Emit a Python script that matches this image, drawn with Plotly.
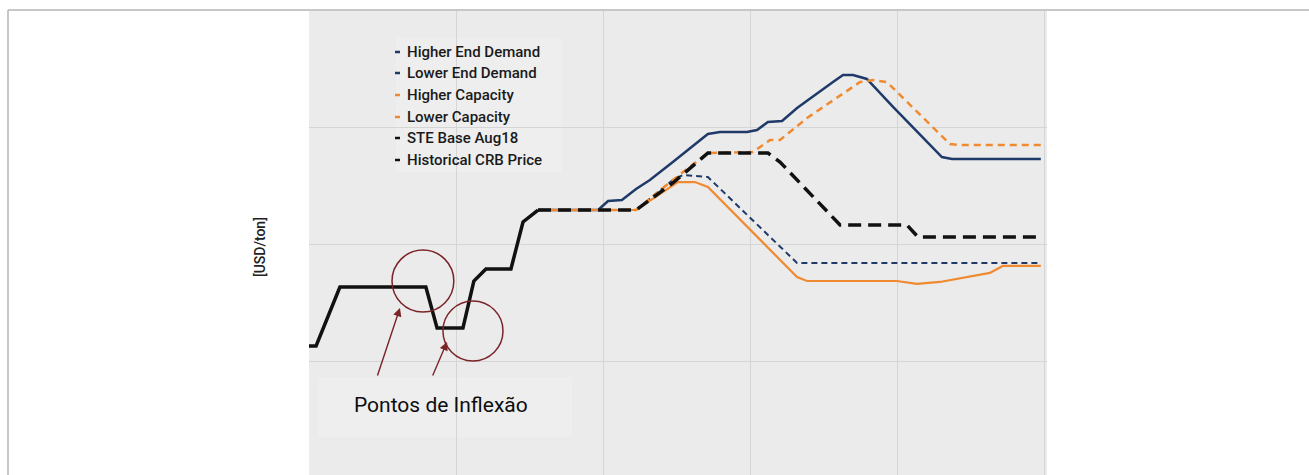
import plotly.graph_objects as go

# ---- data (decimal years, USD/ton) ----
hist_x = [2000.00, 2000.24, 2001.05, 2003.97, 2004.35, 2005.23, 2005.60, 2006.01, 2006.86, 2007.27, 2007.78]
hist_y = [113.7, 113.7, 164.1, 164.1, 129.1, 129.1, 169.2, 179.5, 179.5, 219.7, 229.9]

ste_x = [2007.78, 2011.11, 2012.36, 2013.55, 2015.59, 2016.00, 2018.04, 2020.31, 2020.69, 2024.86]
ste_y = [229.9, 229.9, 253.0, 278.6, 278.6, 270.9, 217.1, 217.1, 206.8, 206.8]

hicap_x = [2007.78, 2011.11, 2012.36, 2013.55, 2015.08, 2015.66, 2016.00, 2016.92, 2018.72, 2019.16,
           2019.63, 2020.18, 2021.77, 2022.11, 2024.86]
hicap_y = [229.9, 229.9, 255.6, 278.6, 279.5, 289.7, 289.7, 308.5, 339.3, 341.0,
           339.3, 325.6, 286.3, 285.5, 285.5]

hidem_x = [2007.78, 2009.82, 2010.16, 2010.63, 2011.11, 2011.58, 2012.36, 2013.55, 2013.96, 2014.88,
           2015.22, 2015.59, 2016.07, 2016.58, 2017.80, 2018.14, 2018.48, 2018.95, 2019.84, 2021.50,
           2021.84, 2024.86]
hidem_y = [229.9, 229.9, 237.6, 238.5, 247.9, 255.6, 271.0, 294.9, 296.6, 296.6,
           298.3, 305.1, 306.0, 317.1, 339.3, 345.3, 345.3, 341.9, 318.0, 275.2,
           273.5, 273.5]

lodem_x = [2007.78, 2011.11, 2012.36, 2012.70, 2013.55, 2016.58, 2024.86]
lodem_y = [229.9, 229.9, 255.6, 259.8, 258.1, 184.6, 184.6]

locap_x = [2007.78, 2011.11, 2012.53, 2013.11, 2013.55, 2016.58, 2016.92, 2019.97, 2020.65, 2021.43,
           2023.13, 2023.57, 2024.86]
locap_y = [229.9, 229.9, 253.8, 253.8, 249.6, 172.6, 169.2, 169.2, 166.7, 168.4,
           176.1, 182.1, 182.1]

legend_labels = ["Higher End Demand", "Lower End Demand", "Higher Capacity",
                 "Lower Capacity", "STE Base Aug18", "Historical CRB Price"]

NAVY = "#1f3a68"
ORANGE = "#f08a30"
BLACK = "#111111"
MAROON = "#7a2428"
FONT = "Roboto"

W, H = 1309, 475
ML, MR, MT, MB = 309, 262, 11, 0
PW, PH = W - ML - MR, H - MT - MB


def px(xp):
    return (xp - ML) / PW


def py(yp):
    return (H - MB - yp) / PH


fig = go.Figure()

fig.add_trace(go.Scatter(x=hidem_x, y=hidem_y, mode="lines", name=legend_labels[0],
                         line=dict(color=NAVY, width=2.5)))
fig.add_trace(go.Scatter(x=lodem_x, y=lodem_y, mode="lines", name=legend_labels[1],
                         line=dict(color=NAVY, width=2, dash="6px,4px")))
fig.add_trace(go.Scatter(x=hicap_x, y=hicap_y, mode="lines", name=legend_labels[2],
                         line=dict(color=ORANGE, width=2.5, dash="7px,5px")))
fig.add_trace(go.Scatter(x=locap_x, y=locap_y, mode="lines", name=legend_labels[3],
                         line=dict(color=ORANGE, width=2.2)))
fig.add_trace(go.Scatter(x=ste_x, y=ste_y, mode="lines", name=legend_labels[4],
                         line=dict(color=BLACK, width=3.5, dash="13px,7px")))
fig.add_trace(go.Scatter(x=hist_x, y=hist_y, mode="lines", name=legend_labels[5],
                         line=dict(color=BLACK, width=3.5)))

shapes = []
annotations = []

# outer frame (top and left edges)
shapes.append(dict(type="line", xref="paper", yref="paper", x0=px(8), x1=px(1309),
                   y0=py(10), y1=py(10), line=dict(color="#b4b4b4", width=1.5)))
shapes.append(dict(type="line", xref="paper", yref="paper", x0=px(8), x1=px(8),
                   y0=py(10), y1=py(475), line=dict(color="#b4b4b4", width=1.5)))

# legend panel
shapes.append(dict(type="rect", xref="paper", yref="paper", x0=px(396), x1=px(562),
                   y0=py(172), y1=py(38), fillcolor="#eeeeee", line=dict(width=0), layer="between"))
legend_colors = [NAVY, NAVY, ORANGE, ORANGE, BLACK, BLACK]
row_y = [52, 73, 95, 117, 138, 160]
for lab, col, ry in zip(legend_labels, legend_colors, row_y):
    shapes.append(dict(type="line", xref="paper", yref="paper", x0=px(395), x1=px(400),
                       y0=py(ry), y1=py(ry), line=dict(color=col, width=2.5)))
    annotations.append(dict(text=lab, xref="paper", yref="paper", x=px(405), y=py(ry),
                            xanchor="left", yanchor="middle", showarrow=False,
                            font=dict(family=FONT, size=15, color="#1a1a1a", weight=500)))

# callout box
shapes.append(dict(type="rect", xref="paper", yref="paper", x0=px(318), x1=px(572),
                   y0=py(437), y1=py(377), fillcolor="#eeeeee", line=dict(width=0), layer="between"))
annotations.append(dict(text="Pontos de Inflexão", xref="paper", yref="paper",
                        x=px(441), y=py(405), xanchor="center", yanchor="middle", showarrow=False,
                        font=dict(family=FONT, size=21, color="#0d0d0d")))

# circles marking the two inflection points: (centre x, centre y, radius x, radius y)
circles = [(2003.87, 169.2, 1.05, 26.5), (2005.57, 126.5, 1.02, 25.6)]
for cx, cy, rx, ry in circles:
    shapes.append(dict(type="circle", xref="x", yref="y",
                       x0=cx - rx, x1=cx + rx, y0=cy - ry, y1=cy + ry,
                       line=dict(color=MAROON, width=1.5)))

# arrows from the callout towards the inflection points: (tip, tail)
arrows = [((2003.09, 146.2), (2002.31, 87.2)), ((2004.69, 117.1), (2004.18, 87.2))]
for (tx, ty), (sx, sy) in arrows:
    annotations.append(dict(text="", x=tx, y=ty, ax=sx, ay=sy, xref="x", yref="y",
                            axref="x", ayref="y", showarrow=True, arrowhead=2, arrowsize=1.2,
                            arrowwidth=1.4, arrowcolor=MAROON))

# axis title
annotations.append(dict(text="[USD/ton]", xref="paper", yref="paper", x=px(260), y=py(247),
                        textangle=-90, showarrow=False, xanchor="center", yanchor="middle",
                        font=dict(family=FONT, size=14, color="#222222", weight=500)))

fig.update_layout(
    width=W, height=H,
    margin=dict(l=ML, r=MR, t=MT, b=MB, pad=0),
    paper_bgcolor="white", plot_bgcolor="#ebebeb",
    showlegend=False,
    shapes=shapes, annotations=annotations,
    xaxis=dict(range=[2000, 2025.07], tick0=2000, dtick=5, showticklabels=False,
               showgrid=True, gridcolor="#d5d5d5", gridwidth=1.2, zeroline=False, showline=False,
               ticks=""),
    yaxis=dict(range=[3.4, 400], tick0=0, dtick=100, showticklabels=False,
               showgrid=True, gridcolor="#d5d5d5", gridwidth=1.2, zeroline=False, showline=False,
               ticks=""),
)

fig.write_html("out.html")
